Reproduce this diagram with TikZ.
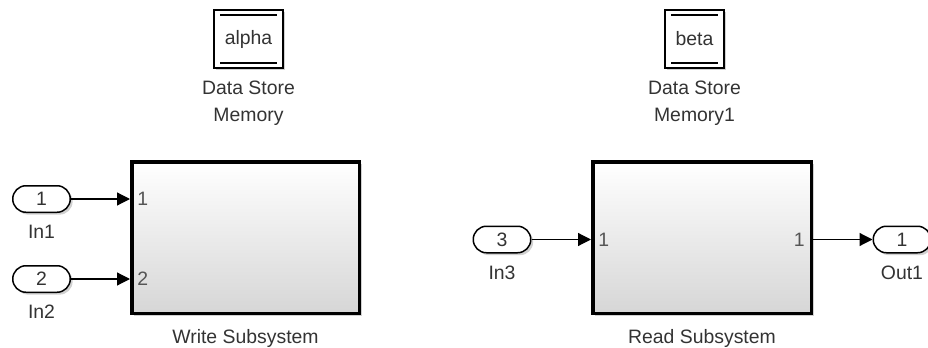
\documentclass[tikz,border=0pt]{standalone}
\usepackage{fontspec}
\setmainfont{Liberation Sans}
\usetikzlibrary{positioning,arrows.meta,shadows}
\definecolor{txtgray}{HTML}{333333}
\definecolor{portgray}{HTML}{555555}

\begin{document}
\begin{tikzpicture}[
    x=0.5pt,y=-0.5pt,>={Triangle[length=6.5pt,width=6.5pt]},
    font=\fontsize{9.7}{13.5}\selectfont,
    every node/.style={text=txtgray,inner sep=0pt},
    softshadow/.style={drop shadow={shadow xshift=1.2pt,shadow yshift=-1.2pt,fill=black,opacity=.18}},
    subsys/.style={draw=black,line width=1.75pt,minimum width=#1,minimum height=75.75pt,
        top color=white,middle color=black!3,bottom color=black!16,softshadow},
    dstore/.style={draw=black,line width=1pt,fill=white,minimum width=#1,minimum height=29pt,softshadow},
    portblk/.style={draw=black,line width=.75pt,fill=white,rounded corners=6.6pt,
        minimum width=28.75pt,minimum height=13.25pt,softshadow},
    portnum/.style={text=portgray},
    lbl/.style={align=center},
    wire/.style={->,line width=.6pt,black}
]
    \useasboundingbox (0,0) rectangle (928,348);
    \clip (0,0) rectangle (928,348);
    %Data stores
    \node[dstore=34.5pt] (alpha) at (248.5,39) {alpha};
    \node[dstore=29.5pt] (beta) at (694.5,39) {beta};
    \foreach \ds in {alpha,beta}{
        \draw[line width=.6pt] ([shift={(3.5pt,-3pt)}]\ds.north west) -- ([shift={(-3.5pt,-3pt)}]\ds.north east);
        \draw[line width=.6pt] ([shift={(3.5pt,3pt)}]\ds.south west) -- ([shift={(-3.5pt,3pt)}]\ds.south east);
    }
    \node[lbl,below=6pt of alpha] (alpha-lbl) {Data Store\\Memory};
    \node[lbl,below=6pt of beta] (beta-lbl) {Data Store\\Memory1};
    %Write side
    \node[subsys=113.75pt] (wsub) at (245.5,237.5) {};
    \node[lbl,below=7pt of wsub] (wsub-lbl) {Write Subsystem};
    \node[portblk] (in1) at (41.5,199) {1};
    \node[portblk] (in2) at (41.5,279) {2};
    \node[lbl,below=6pt of in1] (in1-lbl) {In1};
    \node[lbl,below=6pt of in2] (in2-lbl) {In2};
    \draw[wire] (in1) -- (in1 -| wsub.west);
    \draw[wire] (in2) -- (in2 -| wsub.west);
    \node[portnum,anchor=west,xshift=3.5pt] (wsub-in1) at (in1 -| wsub.west) {1};
    \node[portnum,anchor=west,xshift=3.5pt] (wsub-in2) at (in2 -| wsub.west) {2};
    %Read side
    \node[subsys=109.25pt] (rsub) at (702,237.5) {};
    \node[lbl,below=7pt of rsub] (rsub-lbl) {Read Subsystem};
    \node[portblk] (in3) at (502,239.5) {3};
    \node[portblk] (out1) at (902,239.5) {1};
    \node[lbl,below=6pt of in3] (in3-lbl) {In3};
    \node[lbl,below=6pt of out1] (out1-lbl) {Out1};
    \draw[wire] (in3) -- (in3 -| rsub.west);
    \draw[wire] (out1 -| rsub.east) -- (out1);
    \node[portnum,anchor=west,xshift=3.5pt] (rsub-in1) at (in3 -| rsub.west) {1};
    \node[portnum,anchor=east,xshift=-4pt] (rsub-out1) at (out1 -| rsub.east) {1};
\end{tikzpicture}
\end{document}
